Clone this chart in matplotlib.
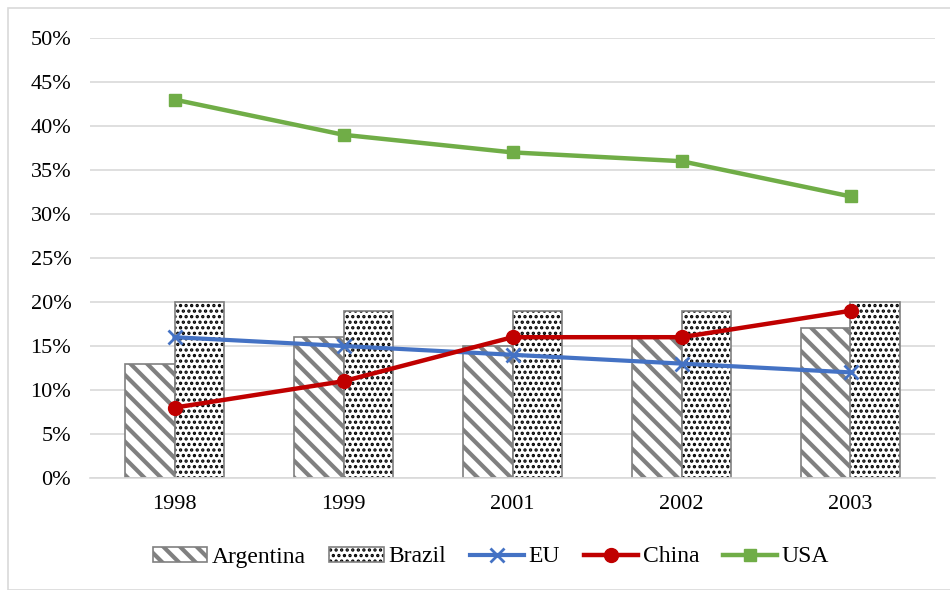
import matplotlib
matplotlib.use("Agg")
import matplotlib.pyplot as plt
import numpy as np
from matplotlib.patches import Rectangle
from matplotlib.ticker import PercentFormatter

plt.rcParams['font.family'] = ['Liberation Serif', 'DejaVu Serif']
plt.rcParams['hatch.linewidth'] = 3.0

years = ["1998", "1999", "2001", "2002", "2003"]
argentina = [13, 16, 15, 16, 17]
brazil = [20, 19, 19, 19, 20]
eu = [16, 15, 14, 13, 12]
china = [8, 11, 16, 16, 19]
usa = [43, 39, 37, 36, 32]

fig = plt.figure(figsize=(9.5, 5.9), dpi=100)
fig.patches.append(Rectangle((8/950, 0), 1.0, 1 - 8/590, transform=fig.transFigure,
                             fill=False, edgecolor='#d9d9d9', linewidth=1.2))
ax = fig.add_axes([90/950, 1 - 478/590, (935-90)/950, (478-38)/590])

x = np.arange(len(years))
w = 0.29
ARG_HLW = 3.0
BRA_HLW = 1.6
plt.rcParams['hatch.color'] = '#808080'
b1 = ax.bar(x - w/2, argentina, w, facecolor='white', edgecolor='#808080',
            hatch='\\\\', linewidth=1.2, label='Argentina', zorder=2)
plt.rcParams['hatch.linewidth'] = BRA_HLW
plt.rcParams['hatch.color'] = 'black'
b2 = ax.bar(x + w/2, brazil, w, facecolor='white', edgecolor='#808080',
            hatch='...', linewidth=1.2, label='Brazil', zorder=2)


def set_hatch(p, lw, col):
    try:
        p.set_hatch_linewidth(lw)
    except Exception:
        p._hatch_linewidth = lw
    p._hatch_color = col


for p in b2:
    set_hatch(p, BRA_HLW, (0, 0, 0, 1))
for p in b1:
    set_hatch(p, ARG_HLW, (0.5, 0.5, 0.5, 1))

l1, = ax.plot(x, eu, color='#4472c4', lw=3, marker='x', ms=10, mew=2, label='EU', zorder=3)
l2, = ax.plot(x, china, color='#c00000', lw=3.2, marker='o', ms=10, label='China', zorder=3)
l3, = ax.plot(x, usa, color='#70ad47', lw=3.2, marker='s', ms=9, label='USA', zorder=3)

ax.set_xlim(-0.5, len(years) - 0.5)
ax.set_ylim(0, 50)
ax.set_yticks(np.arange(0, 51, 5))
ax.yaxis.set_major_formatter(PercentFormatter(decimals=0))
ax.set_xticks(x)
ax.set_xticklabels(years)
ax.grid(axis='y', color='#d9d9d9', lw=1.2, zorder=0)
ax.set_axisbelow(True)
for s in ['top', 'right', 'left']:
    ax.spines[s].set_visible(False)
ax.spines['bottom'].set_color('#d9d9d9')
ax.spines['bottom'].set_linewidth(1.2)
ax.tick_params(length=0, labelsize=16, pad=12)
ax.tick_params(axis='y', pad=13.5)

leg = fig.legend([b1, b2, l1, l2, l3], ['Argentina', 'Brazil', 'EU', 'China', 'USA'],
                 loc='center', bbox_to_anchor=(491/950, 1 - 557/590), ncol=5, frameon=False,
                 fontsize=17, handlelength=2.3, handleheight=0.6, columnspacing=1.0,
                 handletextpad=0.2)
hs = leg.legend_handles
set_hatch(hs[0], ARG_HLW, (0.5, 0.5, 0.5, 1))
set_hatch(hs[1], BRA_HLW, (0, 0, 0, 1))

fig.savefig('out.png', dpi=100)
